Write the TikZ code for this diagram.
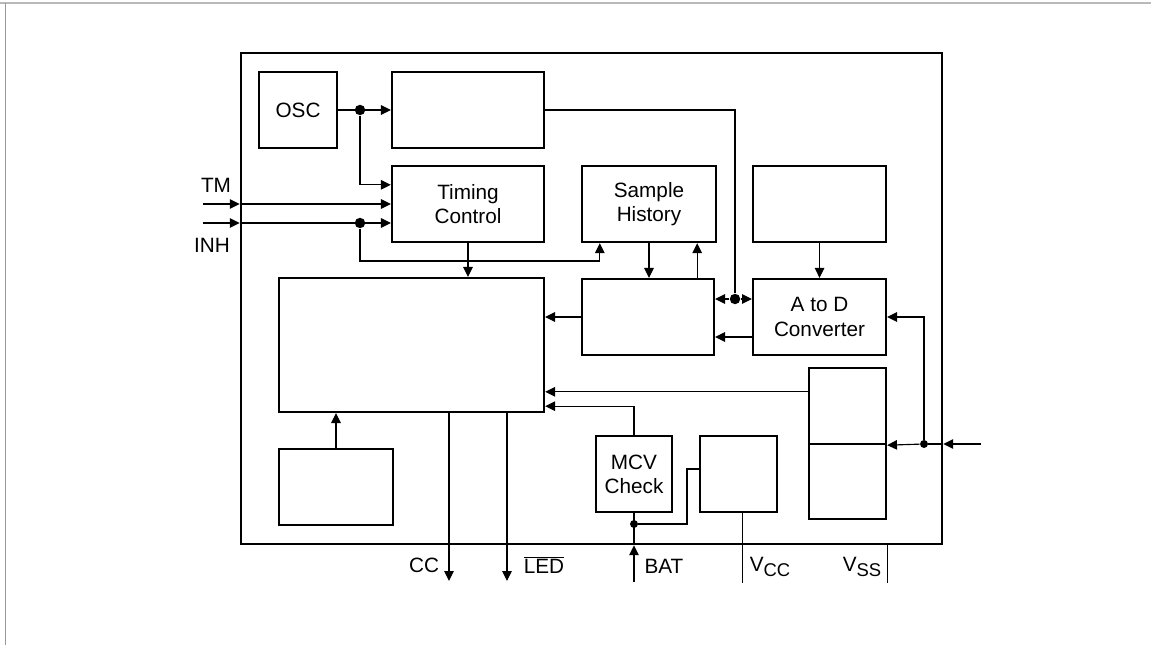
\documentclass[tikz,border=0pt]{standalone}
\usepackage{fontspec}
\setmainfont{Liberation Sans}
\usetikzlibrary{arrows.meta, calc}

\begin{document}
\begin{tikzpicture}[x=0.02cm, y=-0.02cm,
    font=\fontsize{11.8}{13.8}\selectfont,
    blk/.style={draw, line width=1.35pt, inner sep=0pt, align=center, minimum height=1.52cm},
    dot/.style={circle, fill, inner sep=2.1pt},
    sdot/.style={circle, fill, inner sep=1.6pt},
    wire/.style={line width=0.65pt},
    sig/.style={wire, -{Triangle[length=5.6pt, width=5.4pt]}},
    pin/.style={inner sep=0pt}
  ]
    \useasboundingbox (0,0) rectangle (1151,645);
    \draw[gray!55, line width=1.2pt] (0,3) -- (1151,3);
    \draw[gray!80, line width=0.5pt] (5,3) -- (5,645);
    % chip outline
    \node[draw, line width=1.5pt, minimum width=14.02cm, minimum height=9.82cm] (chip) at (591.5,298.5) {};
    % blocks
    \node[blk, minimum width=1.56cm] (osc) at (298,110) {OSC};
    \node[blk, minimum width=3.04cm] (div) at (468,110) {};
    \node[blk, minimum width=3.04cm] (timing) at (468,204) {Timing\\Control};
    \node[blk, minimum width=2.68cm] (hist) at (649,204) {Sample\\History};
    \node[blk, minimum width=2.66cm] (ref) at (819.5,204) {};
    \node[blk, minimum width=5.3cm, minimum height=2.68cm] (main) at (411.5,345) {};
    \node[blk, minimum width=2.64cm] (mid) at (648,317) {};
    \node[blk, minimum width=2.66cm] (adc) at (819.5,317) {A to D\\Converter};
    \node[blk, minimum width=1.54cm] (splu) at (847.5,406) {};
    \node[blk, minimum width=1.54cm, minimum height=1.5cm] (spll) at (847.5,481.5) {};
    \node[blk, minimum width=2.28cm] (lowl) at (336,487) {};
    \node[blk, minimum width=1.52cm] (mcv) at (634,474) {MCV\\Check};
    \node[blk, minimum width=1.54cm] (vcc) at (738.5,474) {};
    % clock
    \node[dot] (j1) at (360,110) {};
    \draw[sig] (osc.east) -- (div.west);
    \draw[sig] (j1) |- ($(timing.north west)+(0,20)$);
    % TM and INH inputs
    \coordinate (tm) at (203,204);
    \coordinate (inh) at (203,223);
    \node[pin] (lbltm) at (216,185) {TM};
    \node[pin] (lblinh) at (212,245) {INH};
    \draw[sig] (tm) -- (tm -| chip.west);
    \draw[sig] (tm -| chip.west) -- (tm -| timing.west);
    \draw[sig] (inh) -- (inh -| chip.west);
    \draw[sig] (inh -| chip.west) -- (inh -| timing.west);
    \node[dot] (j2) at (inh -| j1) {};
    \draw[sig] (j2) -- ++(0,38) -| ($(hist.south west)+(19,0)$);
    \draw[sig] (timing.south) -- (timing.south |- main.north);
    % sample history
    \draw[sig] (hist.south) -- (hist.south |- mid.north);
    \coordinate (u) at ($(mid.north east)+(-18,0)$);
    \draw[sig] (u) -- (u |- hist.south);
    \draw[sig] (ref.south) -- (adc.north);
    % bus
    \node[dot] (j3) at (735,299) {};
    \draw[wire] (div.east) -| (j3);
    \draw[sig] (j3) -- (j3 -| mid.east);
    \draw[sig] (j3) -- (j3 -| adc.west);
    \coordinate (a) at ($(adc.west)+(0,20)$);
    \draw[sig] (a) -- (a -| mid.east);
    \draw[sig] (mid.west) -- (mid.west -| main.east);
    % right input
    \coordinate (vin) at (981,444);
    \node[sdot] (j4) at (924,444) {};
    \draw[sig] (vin) -- (vin -| chip.east);
    \draw[wire] (vin -| chip.east) -- (j4);
    \draw[sig] (j4) -- (splu.south east);
    \draw[sig] (j4) |- (adc.east);
    \coordinate (b) at ($(splu.north west)+(0,25)$);
    \draw[sig] (b) -- (b -| main.east);
    % MCV check
    \coordinate (c) at ($(main.south east)+(0,-7)$);
    \draw[sig] (mcv.north) |- (c);
    \draw[sig] (lowl.north) -- (lowl.north |- main.south);
    % outputs
    \coordinate (cc) at (449,581);
    \coordinate (led) at (507,581);
    \draw[sig] (cc |- main.south) -- (cc);
    \draw[sig] (led |- main.south) -- (led);
    \node[pin] (lblcc) at (424,565) {CC};
    \node[pin] (lblled) at (544,565) {$\overline{\hbox{LED}}$};
    % supply pins
    \coordinate (bat) at (634,582);
    \draw[sig] (bat) -- (bat |- chip.south);
    \draw[wire] (bat |- chip.south) -- (mcv.south);
    \node[sdot] (j5) at (634,524) {};
    \coordinate (d) at ($(vcc.west)+(0,-5)$);
    \draw[wire] (j5) -- ++(53,0) |- (d);
    \coordinate (e) at ($(vcc.south west)+(44,0)$);
    \draw[wire] (e) -- ++(0,70);
    \draw[wire] (spll.south east |- chip.south) -- ++(0,38);
    \node[pin] (lblbat) at (664,566) {BAT};
    \node[pin] (lblvcc) at (770,567) {V\raisebox{-0.4ex}{\fontsize{10.5}{11}\selectfont CC}};
    \node[pin] (lblvss) at (862,567) {V\raisebox{-0.4ex}{\fontsize{10.5}{11}\selectfont SS}};
\end{tikzpicture}
\end{document}
